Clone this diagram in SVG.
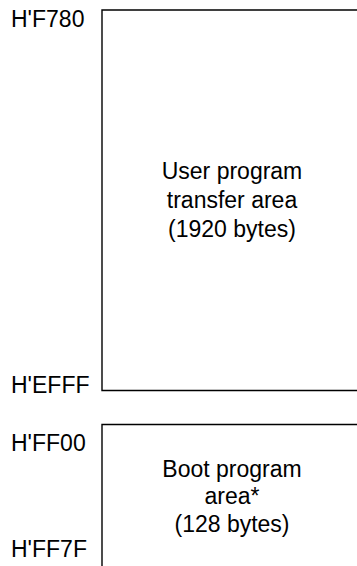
<svg xmlns="http://www.w3.org/2000/svg" width="357" height="566" viewBox="0 0 357 566">
<style>
text{font-family:"Liberation Sans",Arial,sans-serif;font-size:23px;fill:#000}
.c{text-anchor:middle}
.b{fill:none;stroke:#000;stroke-width:1.4}
</style>
<rect width="357" height="566" fill="#fff"/>
<g id="user-area">
<path class="b" d="M358,10 H102 V390.5 H358"/>
<text class="c" x="232" y="179">User program</text>
<text class="c" x="232" y="208">transfer area</text>
<text class="c" x="232" y="237">(1920 bytes)</text>
</g>
<g id="boot-area">
<path class="b" d="M358,424.5 H102 V567"/>
<text class="c" x="232" y="477">Boot program</text>
<text class="c" x="232" y="504">area*</text>
<text class="c" x="232" y="532">(128 bytes)</text>
</g>
<g id="addresses">
<text x="11" y="27">H'F780</text>
<text x="11" y="392.5">H'EFFF</text>
<text x="11" y="451">H'FF00</text>
<text x="11" y="557">H'FF7F</text>
</g>
<g id="connectors"/>
</svg>
